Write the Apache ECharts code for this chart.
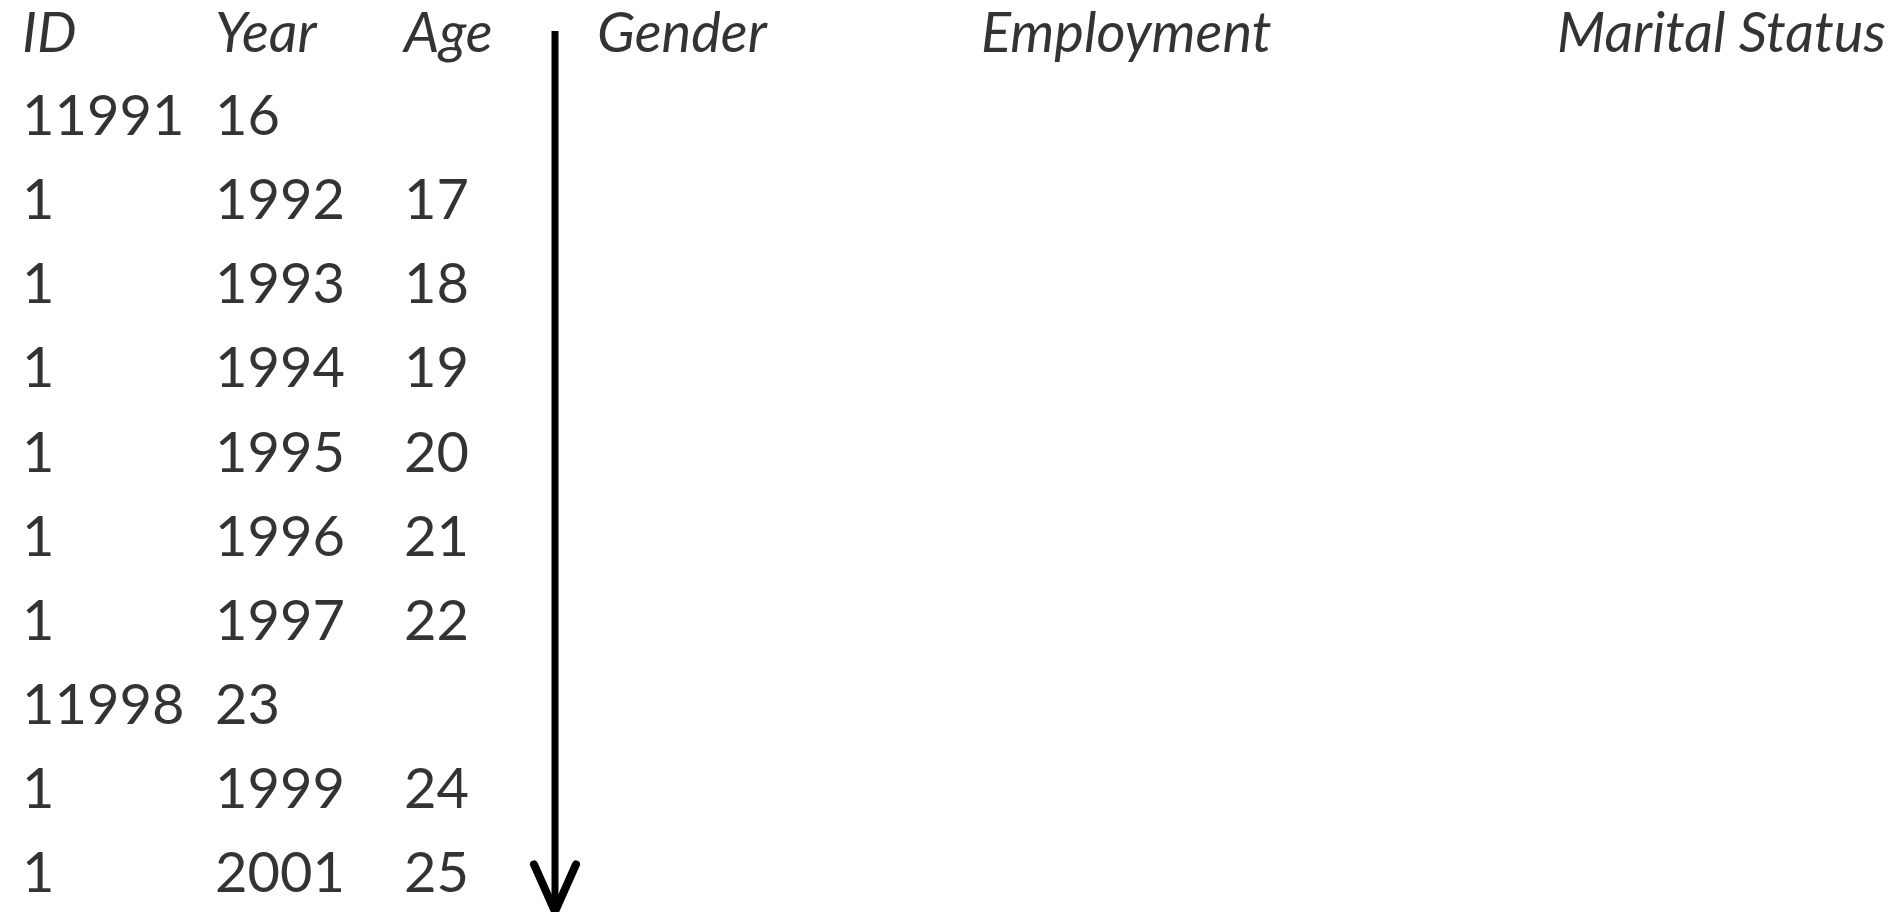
<!DOCTYPE html>
<html>
<head>
<meta charset="utf-8">
<script src="https://cdn.jsdelivr.net/npm/echarts@6/dist/echarts.min.js"></script>
<style>
  html, body { margin: 0; padding: 0; background: #fff; }
  #chart { width: 1903px; height: 912px; }
</style>
</head>
<body>
<div id="chart"></div>
<script>
// table content as it shows in the picture (rows 1 and 8 have the year glued to the id)
const headers = ['ID', 'Year', 'Age', 'Gender', 'Employment', 'Marital Status'];
const idCol = ['11991', '1', '1', '1', '1', '1', '1', '11998', '1', '1'];
const yearCol = ['16', '1992', '1993', '1994', '1995', '1996', '1997', '23', '1999', '2001'];
const ageCol = ['', '17', '18', '19', '20', '21', '22', '', '24', '25'];

// layout (pixels on the x axis, row index on the y axis)
const colX = [22, 215, 404, 597, 981, 1557];
const arrowX = 555;

const font = 'Lato, "Noto Sans", sans-serif';
const chart = echarts.init(document.getElementById('chart'));

function cells (values, x, row0) {
  const out = [];
  values.forEach((v, i) => {
    if (v !== '') out.push({ value: [x, row0 + i], text: v });
  });
  return out;
}

function textSeries (data, italic, dy) {
  return {
    type: 'scatter',
    symbolSize: 0,
    silent: true,
    data: data,
    label: {
      show: true,
      position: [0, 0],
      offset: [0, dy],
      align: 'left',
      verticalAlign: 'middle',
      formatter: (p) => p.data.text,
      color: '#000',
      fontFamily: font,
      fontSize: 56,
      fontStyle: italic ? 'italic' : 'normal'
    }
  };
}

const headerData = headers.map((h, i) => ({ value: [colX[i], 0], text: h }));

chart.setOption({
  backgroundColor: '#fff',
  animation: false,
  grid: { left: 0, right: 0, top: 31, bottom: 40 },
  xAxis: { type: 'value', min: 0, max: 1903, show: false },
  yAxis: { type: 'value', min: 0, max: 10, inverse: true, show: false },
  series: [
    textSeries(headerData, true, 3),
    textSeries(cells(idCol, colX[0], 1), false, 2),
    textSeries(cells(yearCol, colX[1], 1), false, 2),
    textSeries(cells(ageCol, colX[2], 1), false, 2),
    {
      // time arrow
      type: 'line',
      silent: true,
      clip: false,
      symbol: 'none',
      lineStyle: { color: '#000', width: 7, cap: 'butt' },
      data: [[arrowX, 0.0], [arrowX, 10.45]]
    },
    {
      type: 'line',
      silent: true,
      clip: false,
      symbol: 'none',
      lineStyle: { color: '#000', width: 8, cap: 'round', join: 'miter' },
      data: [[arrowX - 21, 9.91], [arrowX, 10.47], [arrowX + 21, 9.91]]
    }
  ]
});
</script>
</body>
</html>
